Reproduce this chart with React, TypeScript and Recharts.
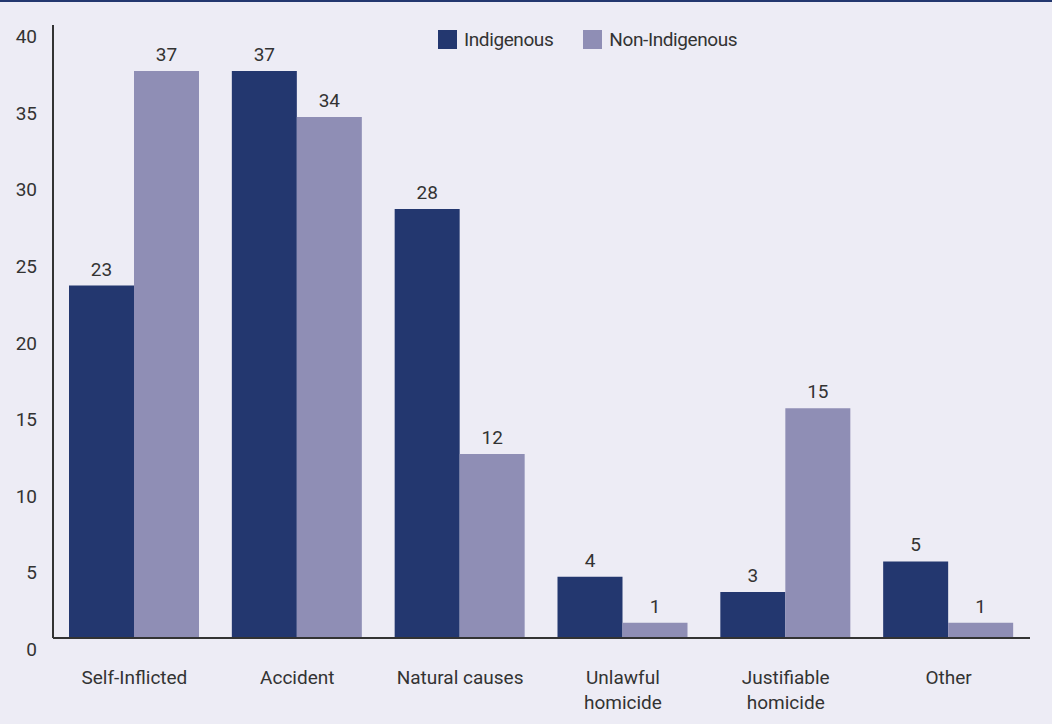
import { BarChart, Bar, XAxis, YAxis, LabelList } from "recharts";

const categories = [
  "Self-Inflicted",
  "Accident",
  "Natural causes",
  "Unlawful homicide",
  "Justifiable homicide",
  "Other",
];
const indigenous = [23, 37, 28, 4, 3, 5];
const nonIndigenous = [37, 34, 12, 1, 15, 1];
const yTicks = [0, 5, 10, 15, 20, 25, 30, 35, 40];

const DARK = "#23376F";
const LIGHT = "#8F8EB5";
const BG = "#EDECF5";
const TEXT = "#333333";
const FONT = "Roboto, 'Liberation Sans', Arial, sans-serif";
const FS = 19;

const data = categories.map((name, i) => ({
  name,
  indigenous: indigenous[i],
  nonIndigenous: nonIndigenous[i],
}));

const XTick = ({ x, y, payload }: any) => {
  const words = String(payload.value).split(" ");
  const lines = words.length > 1 && payload.value !== "Natural causes" ? words : [payload.value];
  return (
    <g>
      {lines.map((l: string, i: number) => (
        <text
          key={i}
          x={x}
          y={y + 44 + i * 25}
          textAnchor="middle"
          fill={TEXT}
          fontSize={FS}
          fontFamily={FONT}
        >
          {l}
        </text>
      ))}
    </g>
  );
};

const YTick = ({ y, payload }: any) => (
  <text x={37} y={y + 18} textAnchor="end" fill={TEXT} fontSize={FS} fontFamily={FONT}>
    {payload.value}
  </text>
);

const legendItems = [
  { label: "Indigenous", color: DARK },
  { label: "Non-Indigenous", color: LIGHT },
];

export default function App() {
  return (
    <div style={{ position: "absolute", left: 0, top: 0, width: 1052, height: 724, background: BG }}>
      <div style={{ position: "absolute", left: 0, top: 0, width: 1052, height: 2, background: DARK }} />
      <div
        style={{
          position: "absolute",
          left: 438,
          top: 28,
          display: "flex",
          alignItems: "center",
          fontFamily: FONT,
          fontSize: FS,
          letterSpacing: -0.4,
          color: TEXT,
          zIndex: 2,
        }}
      >
        {legendItems.map((it, i) => (
          <div key={i} style={{ display: "flex", alignItems: "center", marginRight: i === 0 ? 30 : 0 }}>
            <div style={{ width: 19, height: 19, background: it.color, marginRight: 7 }} />
            <span>{it.label}</span>
          </div>
        ))}
      </div>
      <BarChart
        width={1052}
        height={724}
        data={data}
        margin={{ top: 25, right: 22, bottom: 26, left: 0 }}
        barCategoryGap={16}
        barGap={0}
      >
        <XAxis
          dataKey="name"
          height={60}
          tick={<XTick />}
          tickLine={false}
          tickSize={0}
          axisLine={{ stroke: TEXT, strokeWidth: 2 }}
          interval={0}
        />
        <YAxis
          width={53}
          domain={[0, 40]}
          ticks={yTicks}
          tick={<YTick />}
          tickLine={false}
          tickSize={0}
          axisLine={{ stroke: TEXT, strokeWidth: 2 }}
        />
        <Bar dataKey="indigenous" name="Indigenous" fill={DARK} isAnimationActive={false}>
          <LabelList dataKey="indigenous" position="top" offset={10} fill={TEXT} fontSize={FS} fontFamily={FONT} />
        </Bar>
        <Bar dataKey="nonIndigenous" name="Non-Indigenous" fill={LIGHT} isAnimationActive={false}>
          <LabelList dataKey="nonIndigenous" position="top" offset={10} fill={TEXT} fontSize={FS} fontFamily={FONT} />
        </Bar>
      </BarChart>
    </div>
  );
}
